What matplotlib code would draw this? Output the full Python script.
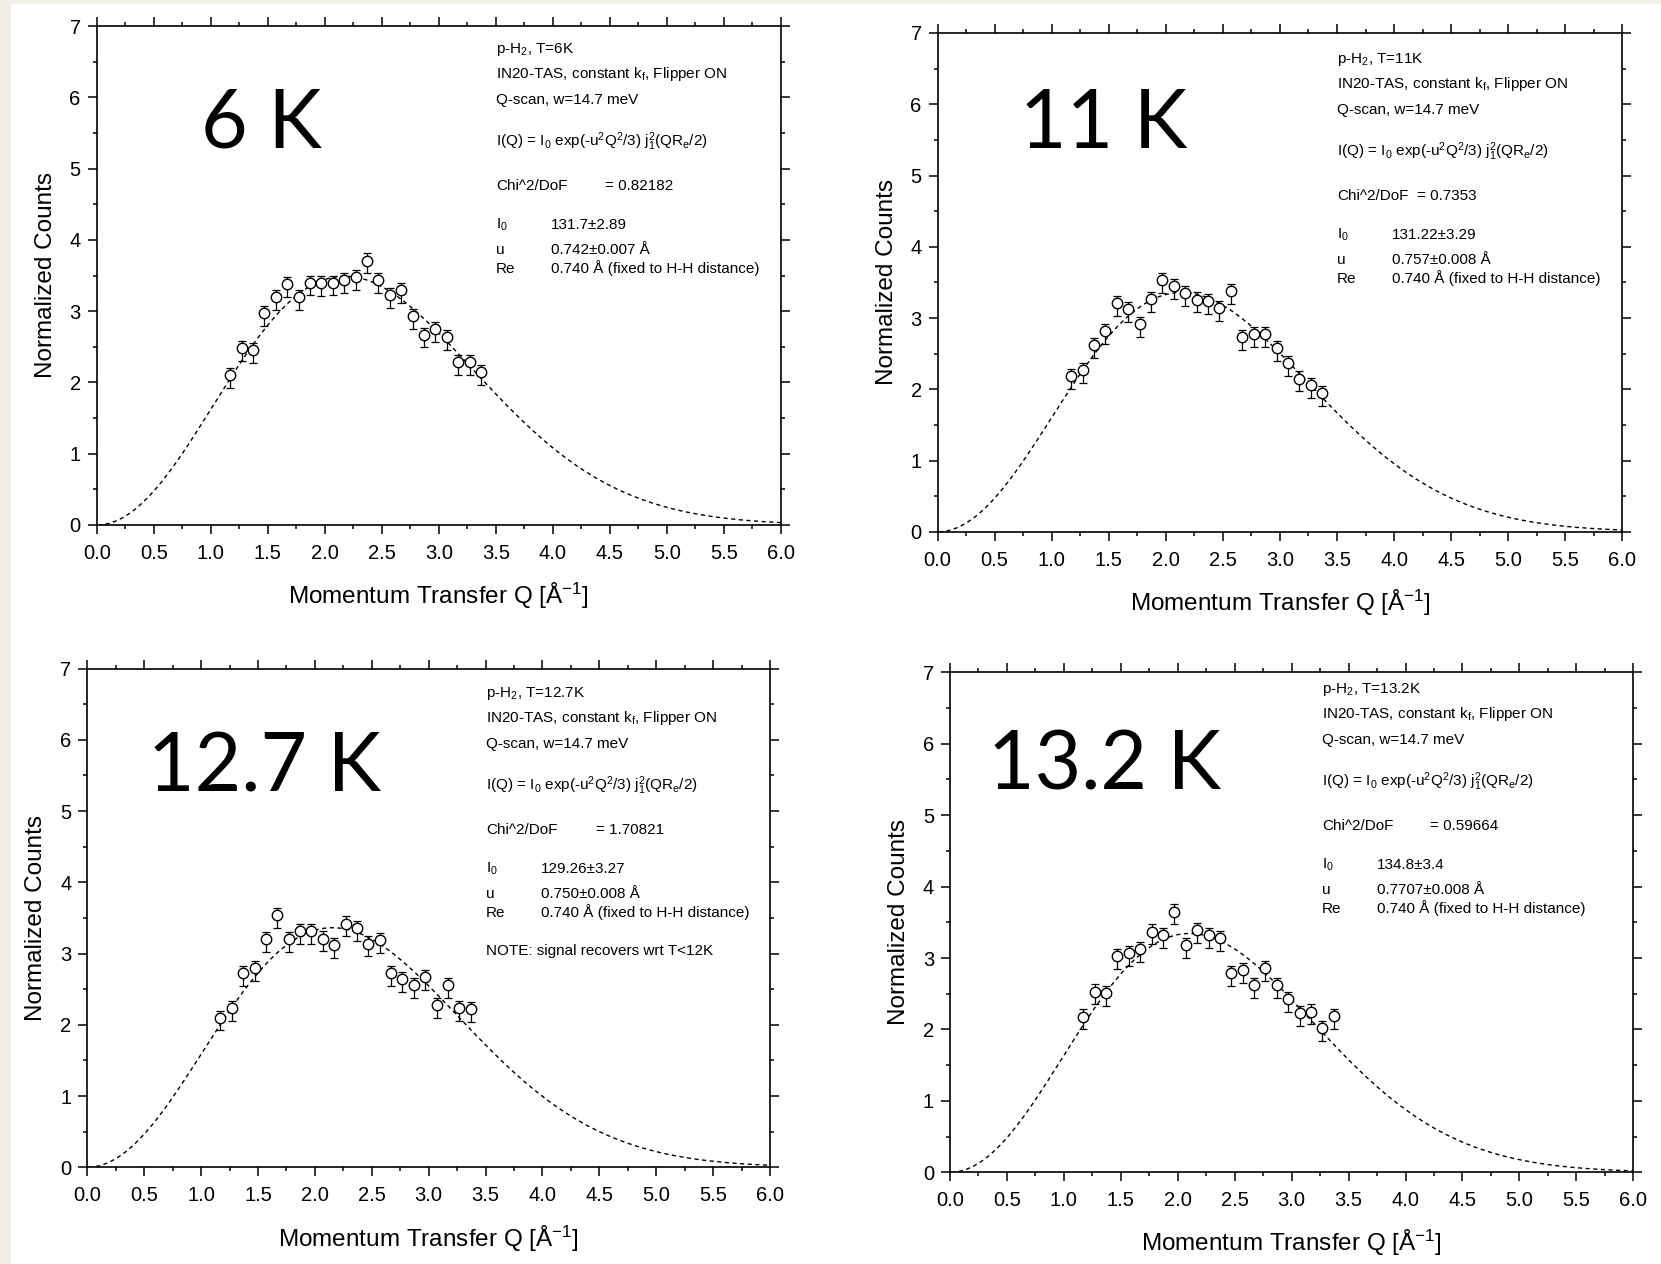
import numpy as np
import matplotlib
matplotlib.use("Agg")
import matplotlib.pyplot as plt
from matplotlib.patches import Rectangle
from matplotlib.ticker import MultipleLocator

plt.rcParams['font.family'] = ['Liberation Sans', 'DejaVu Sans']
plt.rcParams['mathtext.fontset'] = 'custom'
plt.rcParams['mathtext.rm'] = 'Liberation Sans'
plt.rcParams['mathtext.it'] = 'Liberation Sans:italic'
plt.rcParams['mathtext.bf'] = 'Liberation Sans:bold'
plt.rcParams['mathtext.default'] = 'regular'

# ---------------- data ----------------
q_points = [1.17, 1.27, 1.37, 1.47, 1.57, 1.67, 1.77, 1.87, 1.97, 2.07, 2.17, 2.27,
            2.37, 2.47, 2.57, 2.67, 2.77, 2.87, 2.97, 3.07, 3.17, 3.27, 3.37]

counts_6K = [2.10, 2.48, 2.45, 2.97, 3.20, 3.38, 3.20, 3.40, 3.39, 3.40, 3.43, 3.48,
             3.71, 3.44, 3.23, 3.30, 2.93, 2.67, 2.75, 2.64, 2.28, 2.28, 2.15]
counts_11K = [2.18, 2.27, 2.62, 2.82, 3.21, 3.12, 2.92, 3.27, 3.53, 3.45, 3.35, 3.26,
              3.24, 3.14, 3.38, 2.73, 2.77, 2.78, 2.58, 2.37, 2.15, 2.06, 1.95]
counts_12_7K = [2.10, 2.24, 2.73, 2.79, 3.20, 3.54, 3.20, 3.31, 3.32, 3.21, 3.12, 3.42,
                3.36, 3.14, 3.19, 2.73, 2.64, 2.56, 2.67, 2.28, 2.56, 2.23, 2.22]
counts_13_2K = [2.18, 2.53, 2.51, 3.03, 3.07, 3.12, 3.37, 3.32, 3.65, 3.18, 3.39, 3.32,
                3.28, 2.79, 2.83, 2.62, 2.86, 2.62, 2.42, 2.23, 2.25, 2.02, 2.19]

err_low = 0.18
err_high = 0.10

temps = ["6K", "11K", "12.7K", "13.2K"]
big_labels = ["6 K", "11 K", "12.7 K", "13.2 K"]
chi2 = ["0.82182", "0.7353", "1.70821", "0.59664"]
I0_text = ["131.7\u00b12.89", "131.22\u00b13.29", "129.26\u00b13.27", "134.8\u00b13.4"]
u_text = ["0.742\u00b10.007 \u00c5", "0.757\u00b10.008 \u00c5", "0.750\u00b10.008 \u00c5", "0.7707\u00b10.008 \u00c5"]
I0_fit = [131.7, 131.22, 129.26, 134.8]
u_fit = [0.742, 0.757, 0.750, 0.7707]
Re_fit = 0.740
notes = ["", "", "NOTE: signal recovers wrt T<12K", ""]

xticks = [0.0, 0.5, 1.0, 1.5, 2.0, 2.5, 3.0, 3.5, 4.0, 4.5, 5.0, 5.5, 6.0]
yticks = [0, 1, 2, 3, 4, 5, 6, 7]

all_counts = [counts_6K, counts_11K, counts_12_7K, counts_13_2K]

# ---------------- layout (pixels) ----------------
W, H = 1661, 1264
fig = plt.figure(figsize=(W / 100, H / 100), dpi=100)
fig.patch.set_facecolor('#f2efe9')
fig.add_artist(Rectangle((11 / W, 0), 1 - 11 / W, 1 - 4 / H, transform=fig.transFigure,
                         facecolor='white', edgecolor='none', zorder=0))

# (left, right, top, bottom) pixel extents of each axes
axes_px = [(96.7, 781.0, 26.0, 525.0),
           (937.6, 1622.3, 33.0, 531.8),
           (87.3, 770.0, 668.5, 1167.3),
           (950.0, 1633.3, 672.3, 1172.3)]
# big temperature label: (x left, baseline y)
big_pos = [(201, 148), (1020, 148), (148, 792), (988, 789)]
# annotation block: (x left, first line center y, chi value x-offset)
ann_pos = [(496, 48, 109), (1337, 58, 80), (486, 692, 110), (1322, 688, 108)]
line_off = [0, 25, 51, 93, 137, 176, 201, 220, 258]
val_off = 55


def j1(x):
    return np.sin(x) / x ** 2 - np.cos(x) / x


def ftext(x, y, s, **kw):
    fig.text(x / W, 1 - y / H, s, **kw)


qq = np.linspace(0.01, 6.0, 600)

for i in range(4):
    l, r, t, b = axes_px[i]
    ax = fig.add_axes([l / W, 1 - b / H, (r - l) / W, (b - t) / H])
    ax.set_facecolor('none')

    fit = I0_fit[i] * np.exp(-(u_fit[i] ** 2) * qq ** 2 / 3) * j1(qq * Re_fit / 2) ** 2
    ax.plot(qq, fit, color='black', lw=1.0, ls=(0, (3, 2.5)), zorder=2)

    yv = np.array(all_counts[i])
    ax.errorbar(q_points, yv, yerr=[np.full(len(yv), err_low), np.full(len(yv), err_high)],
                fmt='none', ecolor='black', elinewidth=0.9, capsize=3.2, capthick=0.9, zorder=3)
    ax.plot(q_points, yv, 'o', ms=7.5, mfc='white', mec='black', mew=1.0, zorder=4)

    ax.set_xlim(0, 6)
    ax.set_ylim(0, 7)
    ax.set_xticks(xticks)
    ax.set_xticklabels([f"{v:.1f}" for v in xticks])
    ax.set_yticks(yticks)
    ax.set_yticklabels([str(v) for v in yticks])
    ax.xaxis.set_minor_locator(MultipleLocator(0.25))
    ax.yaxis.set_minor_locator(MultipleLocator(0.5))
    ax.tick_params(which='both', direction='out', top=True, right=True, width=1.1,
                   labelsize=14.5, labeltop=False, labelright=False)
    ax.tick_params(which='major', length=6.5)
    ax.tick_params(axis='x', which='major', pad=7)
    ax.tick_params(axis='y', which='major', pad=5)
    ax.tick_params(which='minor', length=3)
    for sp in ax.spines.values():
        sp.set_linewidth(1.2)

    ax.set_xlabel("Momentum Transfer Q [\u00c5$^{-1}$]", fontsize=17.5)
    ax.set_ylabel("Normalized Counts", fontsize=17.5)
    ax.xaxis.set_label_coords(0.5, -56 / (b - t))
    ax.yaxis.set_label_coords(-40 / (r - l), 0.5)

    bx, by = big_pos[i]
    ftext(bx, by, big_labels[i], fontsize=58, family='Lato', va='baseline', ha='left')

    ax0, ay0, chi_off = ann_pos[i]
    fs = 11
    lines = [
        (0, "p-H$_2$, T=" + temps[i]),
        (1, "IN20-TAS, constant k$_f$, Flipper ON"),
        (2, "Q-scan, w=14.7 meV"),
        (3, "I(Q) = I$_0$ exp(-u$^2$Q$^2$/3) j$_1^2$(QR$_e$/2)"),
        (4, "Chi^2/DoF"),
        (5, "I$_0$"),
        (6, "u"),
        (7, "Re"),
    ]
    for k, s in lines:
        ftext(ax0, ay0 + line_off[k] + 5, s, fontsize=fs, va='baseline', ha='left')
    ftext(ax0 + chi_off, ay0 + line_off[4] + 5, "= " + chi2[i], fontsize=fs, va='baseline')
    ftext(ax0 + val_off, ay0 + line_off[5] + 5, I0_text[i], fontsize=fs, va='baseline')
    ftext(ax0 + val_off, ay0 + line_off[6] + 5, u_text[i], fontsize=fs, va='baseline')
    ftext(ax0 + val_off, ay0 + line_off[7] + 5, "0.740 \u00c5 (fixed to H-H distance)",
          fontsize=fs, va='baseline')
    if notes[i]:
        ftext(ax0, ay0 + line_off[8] + 5, notes[i], fontsize=fs, va='baseline')

fig.savefig("out.png", dpi=100, facecolor=fig.get_facecolor())
